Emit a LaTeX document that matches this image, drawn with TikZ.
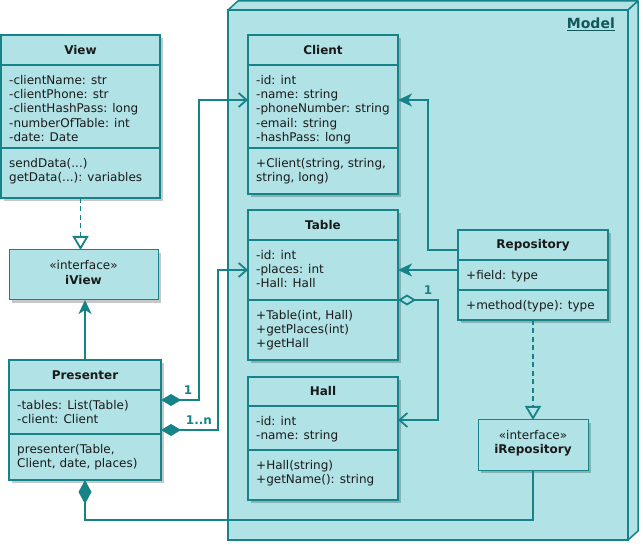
\documentclass[tikz,border=0pt]{standalone}
\usepackage{fontspec}
\setmainfont{DejaVu Sans}
\usetikzlibrary{arrows.meta,shadows}
\definecolor{cfill}{HTML}{B0E2E6}
\definecolor{cline}{HTML}{168389}
\definecolor{ctext}{HTML}{1A1A1A}
\definecolor{cmodel}{HTML}{11585D}
\newcommand\fl{\rule{0pt}{9.2pt}}
\tikzset{
  boxshadow/.style={drop shadow={shadow xshift=3pt, shadow yshift=-3pt, opacity=.22, fill=black}},
  classbox/.style={draw=cline, fill=cfill, line width=1.5pt, inner sep=0pt, outer sep=0pt, anchor=north west, boxshadow},
  ifacebox/.style={draw=cline, fill=cfill, line width=1pt, inner sep=0pt, outer sep=0pt, anchor=north west, boxshadow},
  divider/.style={draw=cline, line width=1.5pt},
  ctitle/.style={font=\fontsize{12}{14}\selectfont\bfseries, text=ctext, inner sep=0pt},
  stereo/.style={font=\fontsize{12}{14}\selectfont, text=ctext, inner sep=0pt},
  members/.style={font=\fontsize{12}{14.4}\selectfont, text=ctext, align=left, anchor=north west, inner sep=0pt},
  conn/.style={draw=cline, line width=1.8pt},
  dashconn/.style={conn, dash pattern=on 5pt off 3.5pt},
  mult/.style={font=\fontsize{12}{14}\selectfont\bfseries, text=cline, inner sep=0pt},
  openarr/.style={-{Straight Barb[length=8pt,width=14pt]}},
  fillarr/.style={-{Stealth[length=14pt,width=13pt,inset=4pt]}},
  realize/.style={-{Triangle[open,length=14pt,width=16pt]}},
  model/.style={draw=cline, fill=cfill, line width=1.5pt, line join=round}
}
\begin{document}
\begin{tikzpicture}[x=1pt,y=-1pt]
\useasboundingbox (0,0) rectangle (643,545);

% Model package (3D box)
\path[model] (228,10) -- (238,1) -- (638,1) -- (628,10) -- cycle;
\path[model] (628,10) -- (638,1) -- (638,531) -- (628,540) -- cycle;
\node[draw=cline, fill=cfill, line width=1.5pt, inner sep=0pt, outer sep=0pt, anchor=north west,
      minimum width=400pt, minimum height=530pt] (model) at (228,10) {};
\node[anchor=base east, font=\fontsize{14}{16}\selectfont\bfseries, text=cmodel, inner sep=0pt] (modellabel) at (615,29) {\underline{Model}};

% View
\node[classbox, minimum width=159pt, minimum height=163pt] (view) at (1,35) {};
\draw[divider] (1,65) -- (160,65);
\draw[divider] (1,148) -- (160,148);
\node[ctitle] (viewT) at (80.5,50) {View};
\node[members] (viewA) at (9,74.8) {\fl-clientName: str\\-clientPhone: str\\-clientHashPass: long\\-numberOfTable: int\\-date: Date};
\node[members] (viewM) at (9,157.8) {\fl sendData(...)\\getData(...): variables};

% iView
\node[ifacebox, minimum width=149pt, minimum height=50pt] (iview) at (9,250) {};
\node[stereo] (iviewS) at (83.5,265.5) {«interface»};
\node[ctitle] (iviewT) at (83.5,280) {iView};

% Presenter
\node[classbox, minimum width=152pt, minimum height=120pt] (presenter) at (9,360) {};
\draw[divider] (9,390) -- (161,390);
\draw[divider] (9,434) -- (161,434);
\node[ctitle] (presenterT) at (85,375) {Presenter};
\node[members] (presenterA) at (17,399.8) {\fl-tables: List(Table)\\-client: Client};
\node[members] (presenterM) at (17,443.8) {\fl presenter(Table,\\Client, date, places)};

% Client
\node[classbox, minimum width=150pt, minimum height=159pt] (client) at (248,35) {};
\draw[divider] (248,65) -- (398,65);
\draw[divider] (248,148) -- (398,148);
\node[ctitle] (clientT) at (323,50) {Client};
\node[members] (clientA) at (256,74.8) {\fl-id: int\\-name: string\\-phoneNumber: string\\-email: string\\-hashPass: long};
\node[members] (clientM) at (256,157.8) {\fl+Client(string, string,\\string, long)};

% Table
\node[classbox, minimum width=150pt, minimum height=150pt] (table) at (248,210) {};
\draw[divider] (248,240) -- (398,240);
\draw[divider] (248,300) -- (398,300);
\node[ctitle] (tableT) at (323,225) {Table};
\node[members] (tableA) at (256,249.8) {\fl-id: int\\-places: int\\-Hall: Hall};
\node[members] (tableM) at (256,309.8) {\fl+Table(int, Hall)\\+getPlaces(int)\\+getHall};

% Hall
\node[classbox, minimum width=150pt, minimum height=123pt] (hall) at (248,377) {};
\draw[divider] (248,406) -- (398,406);
\draw[divider] (248,450) -- (398,450);
\node[ctitle] (hallT) at (323,391.5) {Hall};
\node[members] (hallA) at (256,415.8) {\fl-id: int\\-name: string};
\node[members] (hallM) at (256,459.8) {\fl+Hall(string)\\+getName(): string};

% Repository
\node[classbox, minimum width=150pt, minimum height=90pt] (repo) at (458,230) {};
\draw[divider] (458,260) -- (608,260);
\draw[divider] (458,290) -- (608,290);
\node[ctitle] (repoT) at (533,245) {Repository};
\node[members] (repoA) at (466,269.8) {\fl+field: type};
\node[members] (repoM) at (466,299.8) {\fl+method(type): type};

% iRepository
\node[ifacebox, minimum width=110pt, minimum height=50pt] (irepo) at (478,420) {};
\node[stereo] (irepoS) at (533,435.5) {«interface»};
\node[ctitle] (irepoT) at (533,450) {iRepository};

% Connectors
\draw[dashconn, realize] (view.south) -- (view.south |- iview.north);
\draw[conn, fillarr] (presenter.north) -- (presenter.north |- iview.south);
\draw[conn, {Diamond[length=20pt,width=12pt]}-{Straight Barb[length=8pt,width=14pt]}]
  ([yshift=20pt]presenter.east) -- ++(38,0) |- ([yshift=14.5pt]client.west);
\draw[conn, {Diamond[length=20pt,width=12pt]}-{Straight Barb[length=8pt,width=14pt]}]
  ([yshift=-10pt]presenter.east) -- ++(57,0) |- ([yshift=15pt]table.west);
\draw[conn, {Diamond[open,length=18pt,width=11pt]}-{Straight Barb[length=8pt,width=14pt]}]
  ([yshift=-15pt]table.east) -- ++(40,0) |- ([yshift=18.5pt]hall.east);
\draw[conn, fillarr] ([yshift=25pt]repo.west) -- ++(-30,0) |- ([yshift=14.5pt]client.east);
\draw[conn, fillarr] ([yshift=5pt]repo.west) -- ([yshift=15pt]table.east);
\draw[dashconn, realize] (repo.south) -- (irepo.north);
\draw[conn, {Diamond[length=24pt,width=13pt]}-] (presenter.south) -- ++(0,40) -| (irepo.south);

% Multiplicities
\node[mult] (m1) at (188,390) {1};
\node[mult] (m2) at (199,420) {1..n};
\node[mult] (m3) at (428,290) {1};
\end{tikzpicture}
\end{document}
